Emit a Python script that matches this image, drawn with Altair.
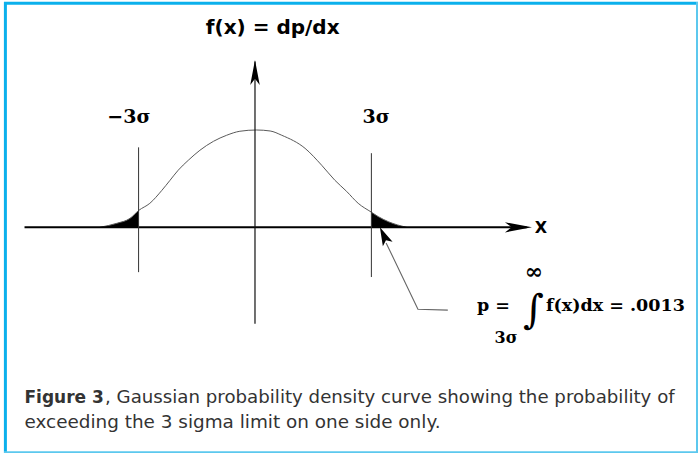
import altair as alt
import pandas as pd

# Density curve: x in sigma units, height relative to the peak
curve_x = [-4.0, -3.56, -3.22, -3.0, -2.71, -2.40, -2.19, -1.98, -1.72, -1.42,
           -1.07, -0.73, -0.39, 0.04, 0.39, 0.69, 1.29, 1.72, 2.06, 2.36,
           2.66, 3.0, 3.18, 3.44, 3.91]
curve_y = [0.0, 0.041, 0.092, 0.172, 0.246, 0.379, 0.482, 0.585, 0.687, 0.790,
           0.882, 0.944, 0.985, 0.998, 0.988, 0.944, 0.810, 0.636, 0.482, 0.369,
           0.246, 0.155, 0.109, 0.057, 0.0]

# Sigma limit markers
sigma_x = [-3, 3]
sigma_lo = [-0.46, -0.51]
sigma_hi = [0.82, 0.76]
sigma_labels = ["\u22123\u03c3", "3\u03c3"]
sigma_label_x = [-3.25, 3.12]

# Axis extents (data units)
x_axis_span = [-5.94, 7.0]
y_axis_span = [-0.99, 1.70]

# Leader line from the formula to the right tail
leader_x = [4.97, 4.20, 3.38]
leader_y = [-0.85, -0.84, -0.16]

W, H = 698, 453
X_DOMAIN = [-6.572, 11.418]
Y_DOMAIN = [-2.3149, 2.3313]
xs = alt.Scale(domain=X_DOMAIN, nice=False, zero=False)
ys = alt.Scale(domain=Y_DOMAIN, nice=False, zero=False)


def ex(field):
    return alt.X(field, type="quantitative", scale=xs, axis=None)


def ey(field):
    return alt.Y(field, type="quantitative", scale=ys, axis=None)


curve = pd.DataFrame({"x": curve_x, "y": curve_y})
left = curve[curve.x <= -3].assign(side="left")
right = curve[curve.x >= 3].assign(side="right")
tails = pd.concat([left, right])

tail_area = alt.Chart(tails).mark_area(color="black", interpolate="monotone").encode(
    x=ex("x"), y=ey("y"), y2=alt.datum(0), detail="side:N")

curve_line = alt.Chart(curve).mark_line(
    color="#5a5a5a", strokeWidth=1.0, interpolate="monotone").encode(x=ex("x"), y=ey("y"))

x_axis = alt.Chart(pd.DataFrame({"a": [x_axis_span[0]], "b": [x_axis_span[1]], "y": [0]})
                   ).mark_rule(color="black", strokeWidth=2).encode(x=ex("a"), x2="b", y=ey("y"))

y_axis = alt.Chart(pd.DataFrame({"x": [0], "a": [y_axis_span[0]], "b": [y_axis_span[1]]})
                   ).mark_rule(color="#111111", strokeWidth=1.2).encode(x=ex("x"), y=ey("a"), y2="b")

sigma_rules = alt.Chart(pd.DataFrame({"x": sigma_x, "a": sigma_lo, "b": sigma_hi})
                        ).mark_rule(color="#333333", strokeWidth=1).encode(x=ex("x"), y=ey("a"), y2="b")

leader = alt.Chart(pd.DataFrame({"x": leader_x, "y": leader_y, "o": [0, 1, 2]})
                   ).mark_line(color="#666666", strokeWidth=1.1).encode(x=ex("x"), y=ey("y"), order="o:Q")

# Arrow heads (right-pointing notched shapes, rotated into place)
head_wide = "M1,0 L-1,-0.58 L-0.55,0 L-1,0.58 Z"
head_slim = "M1,0 L-1,-0.38 L-0.5,0 L-1,0.38 Z"
heads = pd.DataFrame({
    "x": [6.79, 0.0, 3.32],
    "y": [0.0, 1.588, -0.085],
    "angle": [0, 270, 244.9],
    "size": [729, 625, 340],
    "shape": [head_slim, head_slim, head_wide],
})
arrow_heads = alt.Chart(heads).mark_point(filled=True, color="black", opacity=1, strokeWidth=0).encode(
    x=ex("x"), y=ey("y"),
    angle=alt.Angle("angle:Q", scale=None),
    size=alt.Size("size:Q", scale=None),
    shape=alt.Shape("shape:N", scale=None),
)


def label(df, **mark):
    return alt.Chart(df).mark_text(**mark).encode(x=ex("x"), y=ey("y"), text="t:N")


sigma_text = label(pd.DataFrame({"x": sigma_label_x, "y": [1.131, 1.131], "t": sigma_labels}),
                   font="DejaVu Serif", fontWeight="bold", fontSize=19, baseline="middle", color="black")

title_text = label(pd.DataFrame({"x": [0.456], "y": [2.044], "t": ["f(x) = dp/dx"]}),
                   font="DejaVu Sans", fontWeight="bold", fontSize=20, baseline="middle", color="black")

x_text = label(pd.DataFrame({"x": [7.37], "y": [-0.01], "t": ["X"]}),
               font="DejaVu Sans", fontWeight="bold", fontSize=16, baseline="middle", color="black")

formula_left = label(pd.DataFrame({"x": [5.72], "y": [-0.807], "t": ["p ="]}),
                     font="DejaVu Serif", fontWeight="bold", fontSize=17.5, baseline="middle",
                     align="left", color="black")
formula_right = label(pd.DataFrame({"x": [7.5], "y": [-0.807], "t": ["f(x)dx = .0013"]}),
                      font="DejaVu Serif", fontWeight="bold", fontSize=17.5, baseline="middle",
                      align="left", color="black")
integral = label(pd.DataFrame({"x": [7.18], "y": [-0.86], "t": ["\u222b"]}),
                 font="DejaVu Serif", fontStyle="italic", fontSize=40, baseline="middle", color="black")
upper = label(pd.DataFrame({"x": [7.19], "y": [-0.46], "t": ["\u221e"]}),
              font="DejaVu Serif", fontWeight="bold", fontSize=22, baseline="middle", color="black")
lower = label(pd.DataFrame({"x": [6.47], "y": [-1.136], "t": ["3\u03c3"]}),
              font="DejaVu Serif", fontWeight="bold", fontSize=16, baseline="middle", color="black")

# Caption below the diagram
cap_style = dict(font="DejaVu Sans", align="left", baseline="alphabetic", color="#333333")
one = pd.DataFrame({"k": [0]})
cap_bold = alt.Chart(one).mark_text(fontWeight="bold", fontSize=17, text="Figure 3", **cap_style).encode(
    x=alt.value(24.5), y=alt.value(403))
cap_line1 = alt.Chart(one).mark_text(
    fontSize=18.2, text=", Gaussian probability density curve showing the probability of", **cap_style).encode(
    x=alt.value(105), y=alt.value(403))
cap_line2 = alt.Chart(one).mark_text(
    fontSize=18.4, text="exceeding the 3 sigma limit on one side only.", **cap_style).encode(
    x=alt.value(24.5), y=alt.value(428))

# Frame around the figure
frame_dark = "#0BB0EC"
frame_light = "#5CC8EE"
frame = [
    alt.Chart(one).mark_rule(color=frame_dark, strokeWidth=3).encode(
        x=alt.value(4), x2=alt.value(W), y=alt.value(3.2)),
    alt.Chart(one).mark_rule(color=frame_dark, strokeWidth=3).encode(
        x=alt.value(5.4), y=alt.value(2), y2=alt.value(H)),
    alt.Chart(one).mark_rule(color=frame_light, strokeWidth=2).encode(
        x=alt.value(697), y=alt.value(2), y2=alt.value(H)),
    alt.Chart(one).mark_rule(color=frame_light, strokeWidth=2).encode(
        x=alt.value(4), x2=alt.value(W), y=alt.value(452.2)),
]

chart = alt.layer(
    tail_area, curve_line, x_axis, y_axis, sigma_rules, leader, arrow_heads,
    sigma_text, title_text, x_text, formula_left, formula_right, integral, upper, lower,
    cap_bold, cap_line1, cap_line2, *frame,
).properties(
    width=W, height=H, padding=0, autosize=alt.AutoSizeParams(type="none"), background="white",
).configure_view(stroke=None)

chart.save("out.html", embed_options={"renderer": "svg", "actions": False})
